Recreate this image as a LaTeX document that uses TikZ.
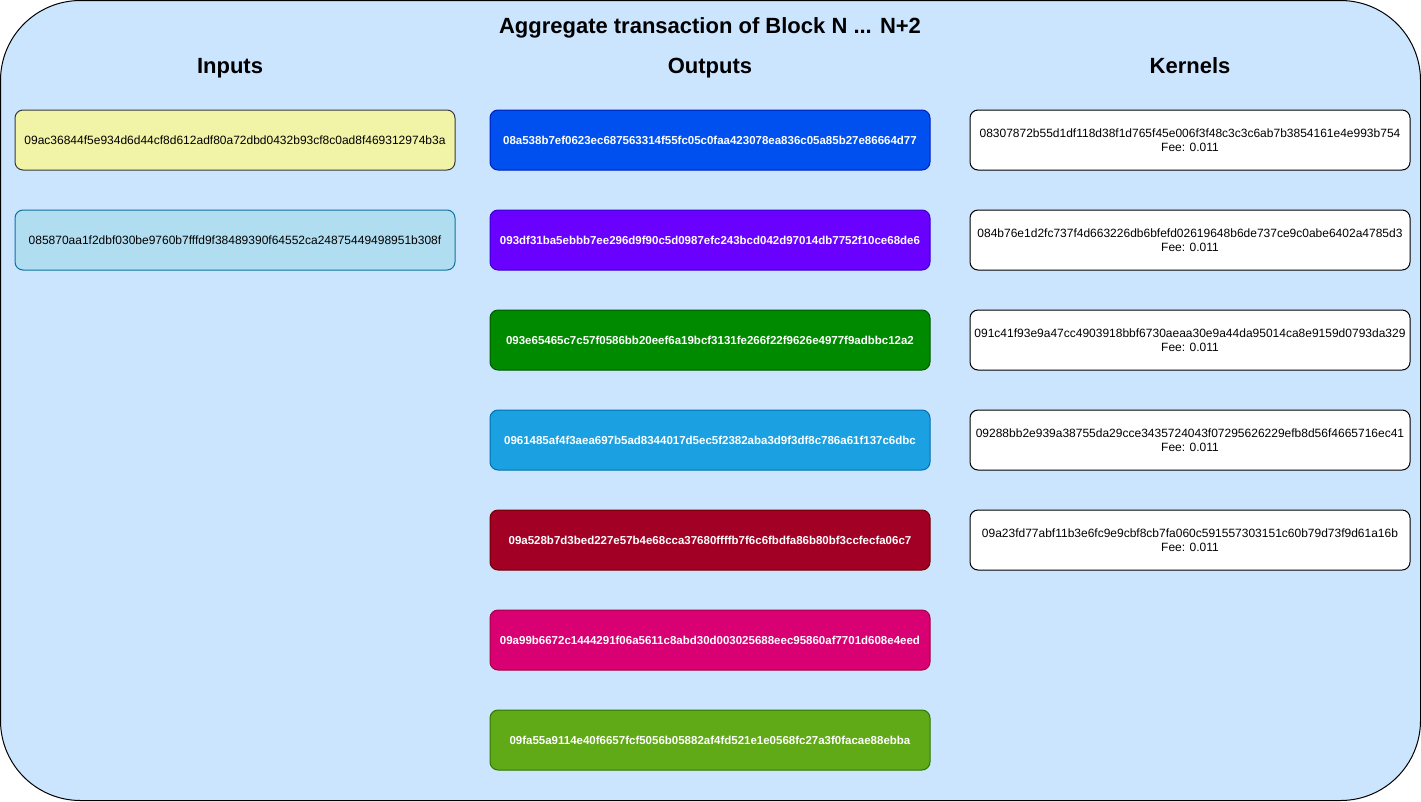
\documentclass[tikz,border=0pt]{standalone}
\usepackage{fontspec}
\setmainfont{Liberation Sans}

\definecolor{panelblue}{HTML}{CCE5FF}
\definecolor{inyellow}{HTML}{F1F4A6}
\definecolor{inyellowline}{HTML}{36393D}
\definecolor{inblue}{HTML}{B1DDF0}
\definecolor{inblueline}{HTML}{10739E}
\definecolor{outA}{HTML}{0050EF}\definecolor{outAline}{HTML}{001DBC}
\definecolor{outB}{HTML}{6A00FF}\definecolor{outBline}{HTML}{3700CC}
\definecolor{outC}{HTML}{008A00}\definecolor{outCline}{HTML}{005700}
\definecolor{outD}{HTML}{1BA1E2}\definecolor{outDline}{HTML}{006EAF}
\definecolor{outE}{HTML}{A20025}\definecolor{outEline}{HTML}{6F0000}
\definecolor{outF}{HTML}{D80073}\definecolor{outFline}{HTML}{A50040}
\definecolor{outG}{HTML}{60A917}\definecolor{outGline}{HTML}{2D7600}

\tikzset{
  txbox/.style={rounded corners=8pt, minimum width=440pt, minimum height=60pt,
    line width=1pt, inner sep=0pt, align=center, font=\fontsize{12}{14}\selectfont},
  outbox/.style={txbox, text=white, font=\fontsize{11.5}{14}\selectfont\bfseries},
  header/.style={anchor=base, font=\fontsize{22}{26}\selectfont\bfseries}
}

\begin{document}
\begin{tikzpicture}[x=1pt,y=-1pt]
            \useasboundingbox (0,0) rectangle (1421,801);
            \draw[fill=panelblue, draw=black, line width=1pt, rounded corners=80pt] (0.5,0.5) rectangle (1420.5,800.5);
            \node[header] (title) at (710,33) {Aggregate transaction of Block N ... N+2};
            \node[header] (hin) at (230,73) {Inputs};
            \node[header] (hout) at (710,73) {Outputs};
            \node[header] (hker) at (1190,73) {Kernels};
            % inputs
            \node[txbox, fill=inyellow, draw=inyellowline] (in1) at (235,140)
                {09ac36844f5e934d6d44cf8d612adf80a72dbd0432b93cf8c0ad8f469312974b3a};
            \node[txbox, fill=inblue, draw=inblueline] (in2) at (235,240)
                {085870aa1f2dbf030be9760b7fffd9f38489390f64552ca24875449498951b308f};
            % outputs
            \foreach \i/\fc/\hash in {
                1/outA/08a538b7ef0623ec687563314f55fc05c0faa423078ea836c05a85b27e86664d77,
                2/outB/093df31ba5ebbb7ee296d9f90c5d0987efc243bcd042d97014db7752f10ce68de6,
                3/outC/093e65465c7c57f0586bb20eef6a19bcf3131fe266f22f9626e4977f9adbbc12a2,
                4/outD/0961485af4f3aea697b5ad8344017d5ec5f2382aba3d9f3df8c786a61f137c6dbc,
                5/outE/09a528b7d3bed227e57b4e68cca37680ffffb7f6c6fbdfa86b80bf3ccfecfa06c7,
                6/outF/09a99b6672c1444291f06a5611c8abd30d003025688eec95860af7701d608e4eed,
                7/outG/09fa55a9114e40f6657fcf5056b05882af4fd521e1e0568fc27a3f0facae88ebba} {
                \node[outbox, fill=\fc, draw=\fc line] (out\i) at (710,{40+100*\i}) {\hash};
            }
            % kernels
            \foreach \i/\hash in {
                1/08307872b55d1df118d38f1d765f45e006f3f48c3c3c6ab7b3854161e4e993b754,
                2/084b76e1d2fc737f4d663226db6bfefd02619648b6de737ce9c0abe6402a4785d3,
                3/091c41f93e9a47cc4903918bbf6730aeaa30e9a44da95014ca8e9159d0793da329,
                4/09288bb2e939a38755da29cce3435724043f07295626229efb8d56f4665716ec41,
                5/09a23fd77abf11b3e6fc9e9cbf8cb7fa060c591557303151c60b79d73f9d61a16b} {
                \node[txbox, fill=white, draw=black] (ker\i) at (1190,{40+100*\i}) {\hash\\Fee: 0.011};
            }
        \end{tikzpicture}
\end{document}
